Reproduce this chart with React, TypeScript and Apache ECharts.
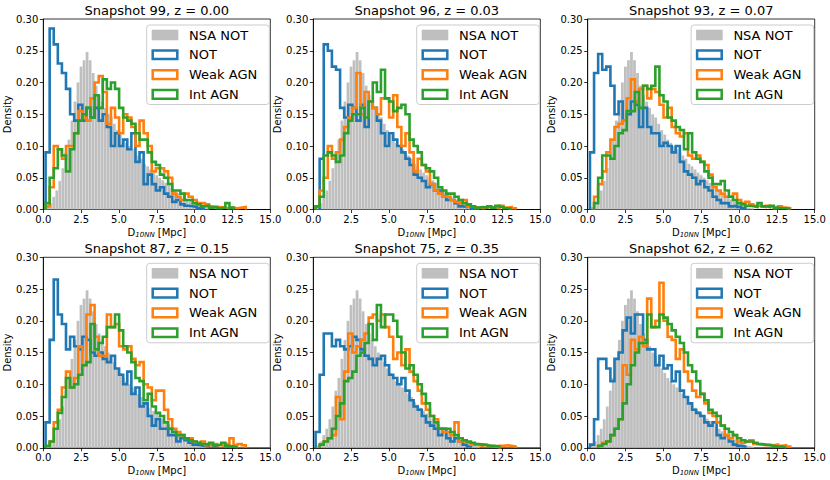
import React, { useEffect, useRef } from "react";
import * as echarts from "echarts";

// ---------- data ----------
const TITLES = [
  "Snapshot 99, z = 0.00",
  "Snapshot 96, z = 0.03",
  "Snapshot 93, z = 0.07",
  "Snapshot 87, z = 0.15",
  "Snapshot 75, z = 0.35",
  "Snapshot 62, z = 0.62",
];
const LEGEND_NAMES = ["NSA NOT", "NOT", "Weak AGN", "Int AGN"];
const X_TICKS = [0, 2.5, 5, 7.5, 10, 12.5, 15];
const Y_TICKS = [0, 0.05, 0.1, 0.15, 0.2, 0.25, 0.3];

// NSA NOT (same observed sample in every panel); bins of 0.2 starting at 0.2
const GRAY_START = 0.2;
const GRAY_WIDTH = 0.2;
const NSA_NOT = [
  0.004, 0.01, 0.02, 0.03, 0.045, 0.065, 0.09, 0.11, 0.14, 0.17,
  0.2, 0.225, 0.235, 0.248, 0.235, 0.215, 0.195, 0.18, 0.17, 0.16,
  0.15, 0.145, 0.135, 0.125, 0.118, 0.11, 0.105, 0.1, 0.095, 0.09,
  0.085, 0.08, 0.072, 0.068, 0.063, 0.058, 0.054, 0.05, 0.046, 0.042,
  0.037, 0.033, 0.03, 0.026, 0.022, 0.019, 0.016, 0.013, 0.01, 0.008,
  0.006, 0.004, 0.003, 0.002,
];

// simulated samples; bins of 0.27 starting at 0.15
const BIN_START = 0.15;
const BIN_WIDTH = 0.27;

const NOT_99 = [
  0.09, 0.285, 0.26, 0.23, 0.215, 0.19, 0.15, 0.14, 0.165, 0.14,
  0.16, 0.145, 0.16, 0.14, 0.15, 0.13, 0.1, 0.12, 0.1, 0.11,
  0.095, 0.12, 0.075, 0.09, 0.04, 0.055, 0.04, 0.03, 0.035, 0.025,
  0.02, 0.012, 0.015, 0.008, 0.006, 0.005, 0.004, 0.002, 0.001, 0,
  0, 0, 0, 0, 0, 0, 0, 0, 0, 0,
];
const WEAK_99 = [
  0.005, 0.035, 0.1, 0.095, 0.08, 0.1, 0.1, 0.12, 0.155, 0.145,
  0.14, 0.175, 0.2, 0.21, 0.185, 0.135, 0.16, 0.145, 0.12, 0.15,
  0.145, 0.13, 0.1, 0.14, 0.12, 0.1, 0.06, 0.065, 0.065, 0.06,
  0.05, 0.025, 0.02, 0.015, 0.025, 0.02, 0.015, 0.01, 0.01, 0.008,
  0.005, 0.004, 0.004, 0.003, 0.002, 0.003, 0.002, 0.003, 0.004, 0,
];
const INT_99 = [
  0.01, 0.05, 0.065, 0.095, 0.085, 0.06, 0.095, 0.12, 0.14, 0.15,
  0.16, 0.145, 0.18, 0.16, 0.205, 0.19, 0.2, 0.19, 0.16, 0.145,
  0.14, 0.135, 0.12, 0.11, 0.11, 0.09, 0.075, 0.07, 0.055, 0.05,
  0.04, 0.03, 0.03, 0.025, 0.015, 0.015, 0.01, 0.008, 0.005, 0.006,
  0.003, 0.004, 0.002, 0.003, 0.01, 0.003, 0, 0, 0, 0,
];

const NOT_96 = [
  0, 0.08, 0.26, 0.25, 0.225, 0.22, 0.16, 0.145, 0.165, 0.16,
  0.14, 0.165, 0.13, 0.17, 0.16, 0.14, 0.12, 0.1, 0.12, 0.11,
  0.1, 0.09, 0.08, 0.07, 0.055, 0.05, 0.045, 0.035, 0.04, 0.03,
  0.03, 0.02, 0.015, 0.015, 0.01, 0.005, 0.004, 0.006, 0.002, 0,
  0, 0, 0, 0, 0, 0, 0, 0, 0, 0,
];
const WEAK_96 = [
  0.005, 0.03, 0.05, 0.1, 0.08, 0.09, 0.11, 0.13, 0.145, 0.16,
  0.215, 0.15, 0.185, 0.17, 0.16, 0.15, 0.175, 0.175, 0.145, 0.18,
  0.13, 0.1, 0.12, 0.09, 0.06, 0.08, 0.07, 0.06, 0.04, 0.03,
  0.025, 0.02, 0.02, 0.015, 0.012, 0.01, 0.015, 0.005, 0.005, 0.003,
  0.002, 0.003, 0.004, 0.003, 0.002, 0.006, 0.003, 0.004, 0.002, 0,
];
const INT_96 = [
  0.005, 0.02, 0.085, 0.09, 0.085, 0.075, 0.085, 0.12, 0.14, 0.15,
  0.15, 0.16, 0.145, 0.17, 0.2, 0.185, 0.22, 0.175, 0.17, 0.155,
  0.16, 0.165, 0.15, 0.11, 0.1, 0.09, 0.07, 0.065, 0.06, 0.05,
  0.035, 0.03, 0.025, 0.025, 0.02, 0.015, 0.01, 0.008, 0.005, 0.003,
  0.004, 0.003, 0.005, 0.003, 0.006, 0.004, 0.002, 0.001, 0, 0,
];

const NOT_93 = [
  0.09, 0.215, 0.245, 0.22, 0.225, 0.195, 0.15, 0.17, 0.14, 0.15,
  0.17, 0.165, 0.13, 0.16, 0.13, 0.12, 0.12, 0.1, 0.105, 0.1,
  0.09, 0.1, 0.075, 0.06, 0.055, 0.05, 0.04, 0.045, 0.035, 0.03,
  0.02, 0.015, 0.01, 0.01, 0.005, 0.006, 0.004, 0.002, 0, 0,
  0, 0, 0, 0, 0, 0, 0, 0, 0, 0,
];
const WEAK_93 = [
  0, 0.02, 0.04, 0.06, 0.09, 0.11, 0.13, 0.135, 0.14, 0.175,
  0.205, 0.17, 0.19, 0.195, 0.175, 0.19, 0.185, 0.165, 0.145, 0.16,
  0.13, 0.12, 0.115, 0.12, 0.085, 0.08, 0.085, 0.075, 0.07, 0.055,
  0.035, 0.03, 0.025, 0.02, 0.02, 0.025, 0.015, 0.01, 0.012, 0.008,
  0.006, 0.005, 0.004, 0.006, 0.004, 0.002, 0.005, 0.003, 0.002, 0,
];
const INT_93 = [
  0, 0.01, 0.05, 0.085, 0.085, 0.08, 0.1, 0.12, 0.125, 0.155,
  0.155, 0.185, 0.16, 0.195, 0.19, 0.195, 0.225, 0.18, 0.17, 0.145,
  0.14, 0.13, 0.125, 0.095, 0.12, 0.09, 0.08, 0.075, 0.06, 0.05,
  0.04, 0.04, 0.045, 0.03, 0.02, 0.015, 0.01, 0.008, 0.006, 0.005,
  0.004, 0.01, 0.005, 0.004, 0.006, 0.003, 0.002, 0.002, 0.001, 0,
];

const NOT_87 = [
  0.04, 0.17, 0.265, 0.21, 0.195, 0.155, 0.175, 0.16, 0.155, 0.175,
  0.17, 0.15, 0.145, 0.15, 0.14, 0.135, 0.145, 0.125, 0.115, 0.1,
  0.12, 0.085, 0.095, 0.065, 0.07, 0.05, 0.035, 0.045, 0.03, 0.03,
  0.02, 0.02, 0.01, 0.015, 0.012, 0.008, 0.005, 0.004, 0.003, 0.002,
  0.006, 0.002, 0, 0, 0, 0, 0, 0, 0, 0,
];
const WEAK_87 = [
  0, 0.01, 0.04, 0.06, 0.095, 0.12, 0.095, 0.11, 0.16, 0.13,
  0.21, 0.225, 0.175, 0.145, 0.145, 0.21, 0.19, 0.195, 0.16, 0.155,
  0.16, 0.14, 0.13, 0.135, 0.1, 0.095, 0.075, 0.09, 0.09, 0.06,
  0.045, 0.03, 0.025, 0.02, 0.015, 0.015, 0.01, 0.008, 0.01, 0.004,
  0.004, 0.006, 0.004, 0.003, 0.006, 0.015, 0.004, 0.006, 0.004, 0,
];
const INT_87 = [
  0.003, 0.01, 0.03, 0.055, 0.08, 0.11, 0.095, 0.1, 0.115, 0.13,
  0.135, 0.195, 0.155, 0.165, 0.175, 0.19, 0.19, 0.21, 0.185, 0.16,
  0.15, 0.135, 0.11, 0.105, 0.075, 0.085, 0.065, 0.055, 0.05, 0.04,
  0.03, 0.025, 0.02, 0.02, 0.015, 0.012, 0.01, 0.008, 0.006, 0.005,
  0.008, 0.004, 0.005, 0.008, 0.003, 0.002, 0.001, 0, 0, 0,
];

const NOT_75 = [
  0.025, 0.115, 0.18, 0.18, 0.16, 0.17, 0.16, 0.155, 0.16, 0.175,
  0.17, 0.155, 0.145, 0.14, 0.13, 0.14, 0.145, 0.13, 0.115, 0.11,
  0.1, 0.11, 0.09, 0.075, 0.065, 0.06, 0.05, 0.04, 0.035, 0.03,
  0.02, 0.03, 0.015, 0.01, 0.015, 0.01, 0.005, 0.002, 0, 0,
  0, 0, 0, 0, 0, 0, 0, 0, 0, 0,
];
const WEAK_75 = [
  0, 0.005, 0.01, 0.015, 0.02, 0.08, 0.045, 0.12, 0.18, 0.15,
  0.16, 0.17, 0.18, 0.205, 0.21, 0.2, 0.21, 0.19, 0.175, 0.14,
  0.15, 0.13, 0.155, 0.12, 0.105, 0.09, 0.07, 0.06, 0.05, 0.045,
  0.03, 0.025, 0.025, 0.02, 0.04, 0.01, 0.01, 0.008, 0.005, 0.004,
  0.003, 0.005, 0.003, 0.002, 0.001, 0.003, 0.004, 0.003, 0.002, 0,
];
const INT_75 = [
  0, 0.005, 0.01, 0.015, 0.03, 0.05, 0.07, 0.105, 0.11, 0.12,
  0.145, 0.15, 0.165, 0.195, 0.17, 0.225, 0.19, 0.21, 0.21, 0.2,
  0.175, 0.15, 0.125, 0.13, 0.115, 0.1, 0.085, 0.07, 0.05, 0.04,
  0.03, 0.03, 0.03, 0.025, 0.02, 0.015, 0.012, 0.01, 0.008, 0.006,
  0.005, 0.004, 0.003, 0.003, 0.002, 0, 0, 0, 0, 0,
];

const NOT_62 = [
  0.005, 0.045, 0.14, 0.14, 0.125, 0.105, 0.14, 0.15, 0.185, 0.205,
  0.18, 0.21, 0.21, 0.17, 0.155, 0.155, 0.13, 0.145, 0.125, 0.13,
  0.105, 0.12, 0.09, 0.08, 0.07, 0.06, 0.055, 0.05, 0.04, 0.035,
  0.04, 0.02, 0.015, 0.02, 0.01, 0.005, 0.003, 0.002, 0, 0,
  0, 0, 0, 0, 0, 0, 0, 0, 0, 0,
];
const WEAK_62 = [
  0, 0, 0.003, 0.008, 0.01, 0.02, 0.03, 0.045, 0.13, 0.115,
  0.17, 0.155, 0.175, 0.16, 0.235, 0.19, 0.2, 0.26, 0.2, 0.175,
  0.17, 0.14, 0.155, 0.12, 0.105, 0.09, 0.08, 0.085, 0.07, 0.055,
  0.05, 0.04, 0.035, 0.02, 0.015, 0.02, 0.01, 0.008, 0.01, 0.012,
  0.006, 0.005, 0.004, 0.005, 0.004, 0.005, 0.003, 0.004, 0.002, 0,
];
const INT_62 = [
  0, 0, 0.003, 0.006, 0.01, 0.02, 0.03, 0.045, 0.07, 0.1,
  0.13, 0.15, 0.165, 0.165, 0.21, 0.19, 0.19, 0.21, 0.205, 0.195,
  0.185, 0.175, 0.165, 0.15, 0.13, 0.12, 0.105, 0.085, 0.075, 0.06,
  0.055, 0.05, 0.035, 0.03, 0.025, 0.02, 0.015, 0.012, 0.01, 0.01,
  0.008, 0.006, 0.005, 0.004, 0.003, 0.002, 0.002, 0.001, 0, 0,
];

const PANEL_SERIES = [
  [NOT_99, WEAK_99, INT_99],
  [NOT_96, WEAK_96, INT_96],
  [NOT_93, WEAK_93, INT_93],
  [NOT_87, WEAK_87, INT_87],
  [NOT_75, WEAK_75, INT_75],
  [NOT_62, WEAK_62, INT_62],
];

// ---------- style / layout ----------
const FONT = '"DejaVu Sans", "Liberation Sans", sans-serif';
const GRAY_COLOR = "#bfbfbf";
const LINE_COLORS = ["#1f77b4", "#ff7f0e", "#2ca02c"];
const COL_LEFT = [43.3, 313.3, 587.7];
const ROW_TOP = [19, 257.3];
const PW = 227;
const PH = 190.5;

function stepPoints(h: number[]) {
  const edge = (k: number) => +(BIN_START + BIN_WIDTH * k).toFixed(4);
  let first = h.findIndex((v) => v > 0);
  let last = h.length - 1;
  while (last >= 0 && !(h[last] > 0)) last--;
  if (first < 0) return [];
  const pts: number[][] = [[edge(first), 0]];
  for (let k = first; k <= last; k++) {
    pts.push([edge(k), h[k]], [edge(k + 1), h[k]]);
  }
  pts.push([edge(last + 1), 0]);
  return pts;
}

function buildOption() {
  const grid: any[] = [];
  const xAxis: any[] = [];
  const yAxis: any[] = [];
  const series: any[] = [];
  const graphic: any[] = [];

  const grayData = NSA_NOT.map((v, i) => [
    +(GRAY_START + i * GRAY_WIDTH).toFixed(3),
    +(GRAY_START + (i + 1) * GRAY_WIDTH).toFixed(3),
    v,
  ]);

  TITLES.forEach((title, i) => {
    const L = COL_LEFT[i % 3];
    const T = ROW_TOP[Math.floor(i / 3)];
    grid.push({
      left: L,
      top: T,
      width: PW,
      height: PH,
      show: true,
      borderColor: "#000",
      borderWidth: 0.8,
      backgroundColor: "transparent",
    });
    xAxis.push({
      gridIndex: i,
      type: "value",
      min: X_TICKS[0],
      max: X_TICKS[X_TICKS.length - 1],
      interval: X_TICKS[1] - X_TICKS[0],
      axisLine: { show: true, onZero: false, lineStyle: { color: "#000", width: 0.8 } },
      axisTick: { show: true, length: 3.5, lineStyle: { color: "#000", width: 0.8 } },
      axisLabel: {
        fontSize: 10,
        color: "#000",
        fontFamily: FONT,
        margin: 5,
        formatter: (v: number) => v.toFixed(1),
      },
      splitLine: { show: false },
      name: "{d|D}{s|10NN}{d| [Mpc]}",
      nameLocation: "middle",
      nameGap: 17,
      nameTextStyle: {
        color: "#000",
        fontFamily: FONT,
        fontSize: 10,
        rich: {
          d: { fontSize: 10, color: "#000", fontFamily: FONT },
          s: { fontSize: 7, color: "#000", fontFamily: FONT, fontStyle: "italic", padding: [5, 0, 0, 0] },
        },
      },
    });
    yAxis.push({
      gridIndex: i,
      type: "value",
      min: Y_TICKS[0],
      max: Y_TICKS[Y_TICKS.length - 1],
      interval: Y_TICKS[1] - Y_TICKS[0],
      axisLine: { show: true, onZero: false, lineStyle: { color: "#000", width: 0.8 } },
      axisTick: { show: true, length: 3.5, lineStyle: { color: "#000", width: 0.8 } },
      axisLabel: {
        fontSize: 10,
        color: "#000",
        fontFamily: FONT,
        margin: 5,
        formatter: (v: number) => v.toFixed(2),
      },
      splitLine: { show: false },
      name: "Density",
      nameLocation: "middle",
      nameGap: 30,
      nameRotate: 90,
      nameTextStyle: { color: "#000", fontFamily: FONT, fontSize: 10 },
    });

    series.push({
      type: "custom",
      name: LEGEND_NAMES[0],
      xAxisIndex: i,
      yAxisIndex: i,
      silent: true,
      z: 1,
      encode: { x: [0, 1], y: 2 },
      data: grayData,
      renderItem: (params: any, api: any) => {
        const a = api.coord([api.value(0), api.value(2)]);
        const b = api.coord([api.value(1), 0]);
        return {
          type: "rect",
          shape: { x: a[0], y: a[1], width: b[0] - a[0] - 0.25, height: b[1] - a[1] },
          style: { fill: GRAY_COLOR },
        };
      },
    });

    PANEL_SERIES[i].forEach((arr, j) => {
      series.push({
        type: "line",
        name: LEGEND_NAMES[j + 1],
        xAxisIndex: i,
        yAxisIndex: i,
        data: stepPoints(arr),
        showSymbol: false,
        symbol: "none",
        silent: true,
        z: 2 + j,
        lineStyle: { color: LINE_COLORS[j], width: 2.6, join: "miter" },
        itemStyle: { color: LINE_COLORS[j] },
      });
    });

    // title
    graphic.push({
      type: "text",
      x: L + PW / 2,
      y: T - 9,
      z: 50,
      style: {
        text: title,
        fill: "#000",
        fontSize: 13,
        fontFamily: FONT,
        align: "center",
        verticalAlign: "middle",
      },
    });

    // legend
    const bx = L + 103.4;
    const by = T + 6;
    graphic.push({
      type: "rect",
      z: 60,
      shape: { x: bx, y: by, width: 122.6, height: 79.5, r: 3 },
      style: { fill: "rgba(255,255,255,0.8)", stroke: "#cccccc", lineWidth: 1 },
    });
    LEGEND_NAMES.forEach((nm, k) => {
      const cy = T + 16 + k * 19.8;
      const px = bx + 5;
      if (k === 0) {
        graphic.push({
          type: "rect",
          z: 61,
          shape: { x: px, y: cy - 5.3, width: 26.6, height: 10.6 },
          style: { fill: GRAY_COLOR },
        });
      } else {
        graphic.push({
          type: "rect",
          z: 61,
          shape: { x: px + 1, y: cy - 4.3, width: 24.6, height: 8.6 },
          style: { fill: "none", stroke: LINE_COLORS[k - 1], lineWidth: 2.5 },
        });
      }
      graphic.push({
        type: "text",
        z: 62,
        x: px + 37.3,
        y: cy,
        style: {
          text: nm,
          fill: "#000",
          fontSize: 13,
          fontFamily: FONT,
          align: "left",
          verticalAlign: "middle",
        },
      });
    });
  });

  return {
    animation: false,
    backgroundColor: "#fff",
    grid,
    xAxis,
    yAxis,
    series,
    graphic,
  };
}

export default function App() {
  const ref = useRef<HTMLDivElement>(null);
  useEffect(() => {
    if (!ref.current) return;
    const chart = echarts.init(ref.current, undefined, { renderer: "svg" });
    chart.setOption(buildOption() as any);
    return () => chart.dispose();
  }, []);
  return (
    <div
      ref={ref}
      style={{ position: "absolute", left: 0, top: 0, width: 830, height: 480 }}
    />
  );
}
